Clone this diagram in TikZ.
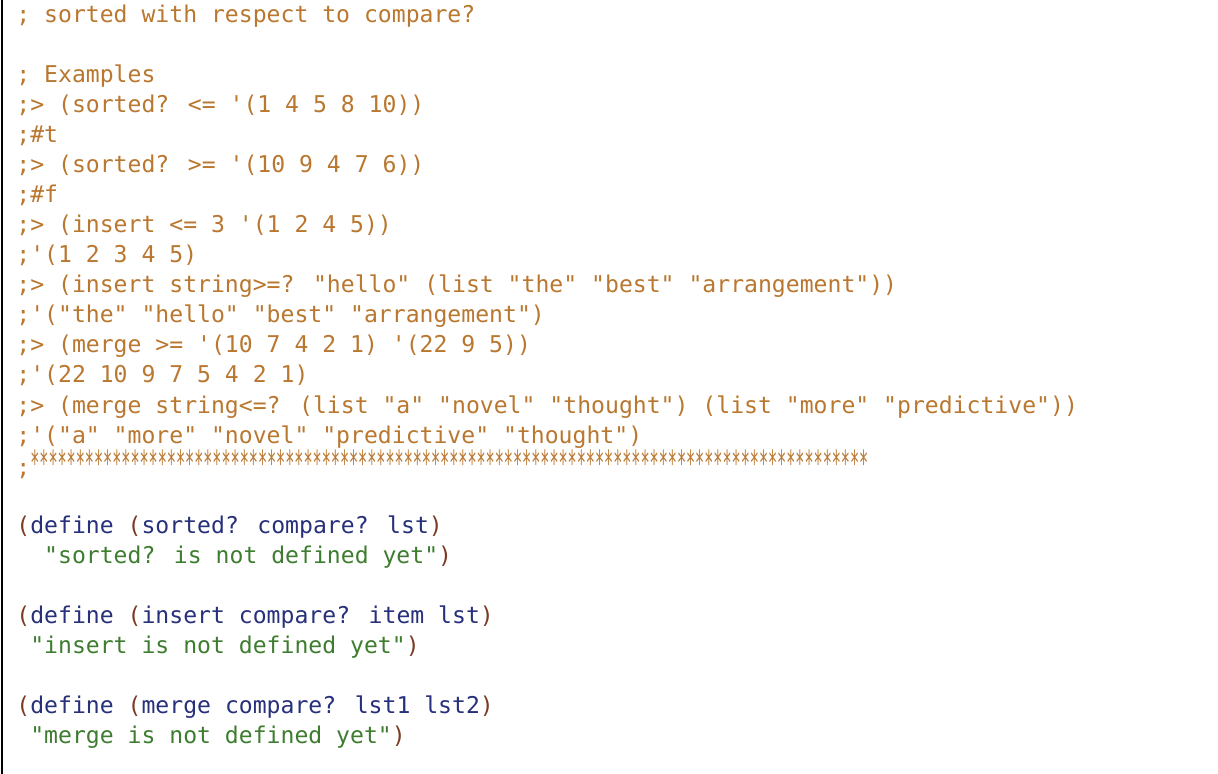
\documentclass[tikz,border=0pt]{standalone}
\usepackage{fontspec}
\usepackage{graphicx}
\newfontfamily\code{DejaVu Sans Mono}
\definecolor{cmt}{HTML}{B9772F}
\definecolor{kw}{HTML}{27307B}
\definecolor{par}{HTML}{7B3B24}
\definecolor{str}{HTML}{3E7D30}
\tikzset{ln/.style={anchor=base west,inner sep=0pt,font=\code\fontsize{11.55pt}{13pt}\selectfont,text=cmt}}
\newcommand{\K}[1]{\textcolor{kw}{#1}}
\newcommand{\Pa}[1]{\textcolor{par}{#1}}
\newcommand{\St}[1]{\textcolor{str}{#1}}
\begin{document}
\begin{tikzpicture}[x=0.5pt,y=-0.5pt]
\fill[white] (0,0) rectangle (1218,774);
\useasboundingbox (0,0) rectangle (1218,774);
\draw[black,line width=1pt] (1.5,0) -- (1.5,774);
\node[ln] (l1) at (16,23) {; sorted with respect to compare?};
\node[ln] (l3) at (16,83) {; Examples};
\node[ln] (l4) at (16,113) {;> (sorted? <= '(1 4 5 8 10))};
\node[ln] (l5) at (16,143) {;\#t};
\node[ln] (l6) at (16,173) {;> (sorted? >= '(10 9 4 7 6))};
\node[ln] (l7) at (16,203) {;\#f};
\node[ln] (l8) at (16,233) {;> (insert <= 3 '(1 2 4 5))};
\node[ln] (l9) at (16,263) {;'(1 2 3 4 5)};
\node[ln] (l10) at (16,293) {;> (insert string>=? "hello" (list "the" "best" "arrangement"))};
\node[ln] (l11) at (16,323) {;'("the" "hello" "best" "arrangement")};
\node[ln] (l12) at (16,353) {;> (merge >= '(10 7 4 2 1) '(22 9 5))};
\node[ln] (l13) at (16,383) {;'(22 10 9 7 5 4 2 1)};
\node[ln] (l14) at (16,413) {;> (merge string<=? (list "a" "novel" "thought") (list "more" "predictive"))};
\node[ln] (l15) at (16,443) {;'("a" "more" "novel" "predictive" "thought")};
\node[ln] (l16) at (16,475) {;\scalebox{0.655}[1.5]{********************************************************************************************}};
\node[ln] (d1) at (16,533) {\Pa{(}\K{define} \Pa{(}\K{sorted? compare? lst}\Pa{)}};
\node[ln] (s1) at (43.8,563) {\St{"sorted? is not defined yet"}\Pa{)}};
\node[ln] (d2) at (16,623) {\Pa{(}\K{define} \Pa{(}\K{insert compare? item lst}\Pa{)}};
\node[ln] (s2) at (29.9,653) {\St{"insert is not defined yet"}\Pa{)}};
\node[ln] (d3) at (16,713) {\Pa{(}\K{define} \Pa{(}\K{merge compare? lst1 lst2}\Pa{)}};
\node[ln] (s3) at (29.9,743) {\St{"merge is not defined yet"}\Pa{)}};
\end{tikzpicture}
\end{document}
